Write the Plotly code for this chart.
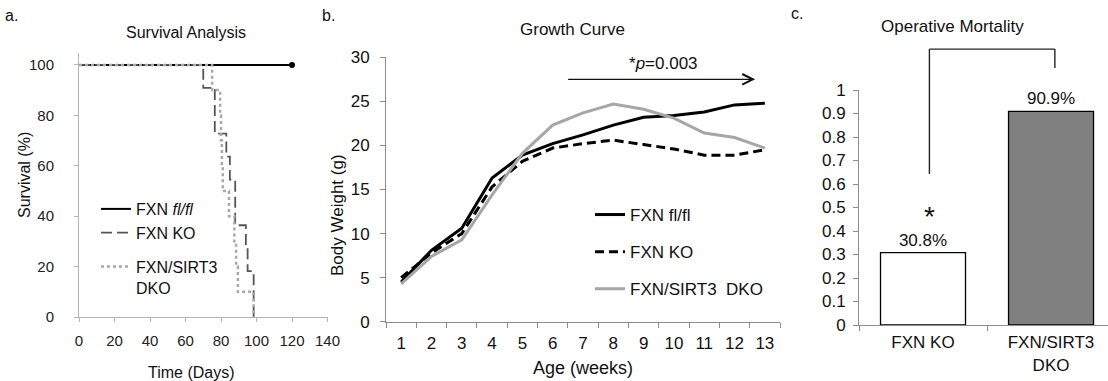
import plotly.graph_objects as go

# ---------------- data ----------------
# Panel a: Kaplan-Meier survival (days, % survival)
surv_days_flfl = [0, 120]
surv_flfl = [100, 100]
surv_days_ko = [0, 70, 76.5, 83, 85, 88, 94, 95, 98.4]
surv_ko = [100, 90.9, 72.7, 63.6, 54.5, 36.4, 27.3, 18.2, 0]
surv_days_dko = [0, 75, 79.5, 80, 80.5, 81, 84.5, 87.5, 88.5, 89.5, 98.4]
surv_dko = [100, 90, 80, 70, 60, 50, 40, 30, 20, 10, 0]

# Panel b: growth curve (body weight, g)
weeks = ["1", "2", "3", "4", "5", "6", "7", "8", "9", "10", "11", "12", "13"]
bw_flfl = [4.5, 8.1, 10.6, 16.3, 18.9, 20.2, 21.2, 22.3, 23.2, 23.4, 23.8, 24.6, 24.8]
bw_ko = [5.0, 7.8, 10.0, 15.3, 18.2, 19.7, 20.2, 20.6, 20.1, 19.6, 18.9, 18.9, 19.5]
bw_dko = [4.3, 7.4, 9.3, 14.4, 19.1, 22.3, 23.7, 24.7, 24.1, 23.1, 21.4, 20.9, 19.7]
p_text = "*<i>p</i>=0.003"
arrow_from_week = 6.46
arrow_to_week = 12.68
arrow_level = 27.5

# Panel c: operative mortality
mort_groups = ["FXN KO", "FXN/SIRT3<br>DKO"]
mort_values = [0.308, 0.909]

# ---------------- layout helpers ----------------
W, H = 1108, 381
FONT = "Liberation Sans, Arial, sans-serif"


def px(x):
    return x / W


def py(y):
    return 1 - y / H


A_DOMX = [px(79), px(327.5)]
A_DOMY = [py(317), py(53.3)]
B_DOMX = [px(386), px(780)]
B_DOMY = [py(321.7), py(57.3)]
C_DOMX = [px(859), 1.0]
C_DOMY = [py(325), py(90)]


def c_paper_y(v):
    return C_DOMY[0] + v * (C_DOMY[1] - C_DOMY[0])


fig = go.Figure()

# ---- panel a traces ----
fig.add_trace(go.Scatter(
    x=surv_days_flfl, y=surv_flfl, mode="lines", name="FXN <i>fl/fl</i>",
    line=dict(color="black", width=2, shape="hv"),
    xaxis="x", yaxis="y", legend="legend", legendgroup="a1"))
fig.add_trace(go.Scatter(
    x=surv_days_flfl[-1:], y=surv_flfl[-1:], mode="markers", showlegend=False,
    marker=dict(size=6, color="black"), legendgroup="a1",
    xaxis="x", yaxis="y"))
fig.add_trace(go.Scatter(
    x=surv_days_ko, y=surv_ko, mode="lines", name="FXN KO",
    line=dict(color="#555555", width=1.8, shape="hv", dash="11px,5px"),
    xaxis="x", yaxis="y", legend="legend", legendgroup="a1"))
fig.add_trace(go.Scatter(
    x=surv_days_dko, y=surv_dko, mode="lines", name="FXN/SIRT3<br>DKO",
    line=dict(color="#a8a8a8", width=2.5, shape="hv", dash="dot"),
    xaxis="x", yaxis="y", legend="legend", legendgroup="a2"))

# ---- panel b traces ----
fig.add_trace(go.Scatter(
    x=weeks, y=bw_flfl, mode="lines", name="FXN fl/fl",
    line=dict(color="black", width=3),
    xaxis="x2", yaxis="y2", legend="legend2", legendgroup="b1"))
fig.add_trace(go.Scatter(
    x=weeks, y=bw_ko, mode="lines", name="FXN KO",
    line=dict(color="black", width=3, dash="9px,5px"),
    xaxis="x2", yaxis="y2", legend="legend2", legendgroup="b2"))
fig.add_trace(go.Scatter(
    x=weeks, y=bw_dko, mode="lines", name="FXN/SIRT3  DKO",
    line=dict(color="#a6a6a6", width=3),
    xaxis="x2", yaxis="y2", legend="legend2", legendgroup="b3"))

# ---- panel c trace ----
fig.add_trace(go.Bar(
    x=mort_groups, y=mort_values, width=0.664,
    marker=dict(color=["white", "#808080"], line=dict(color="black", width=1.3)),
    texttemplate="%{y:.1%}", textposition="outside",
    textfont=dict(size=17, color="#111", family=FONT), cliponaxis=False,
    xaxis="x3", yaxis="y3", showlegend=False))

axis_common = dict(showgrid=False, zeroline=False, automargin=False, showline=True,
                   ticks="outside", fixedrange=True)

fig.update_layout(
    width=W, height=H,
    margin=dict(l=0, r=0, t=0, b=0),
    paper_bgcolor="white", plot_bgcolor="white",
    font=dict(family=FONT, color="#111", size=16),
    xaxis=dict(axis_common, domain=A_DOMX, range=[0, 140], dtick=20, tick0=0,
               linecolor="#b4b4b4", tickcolor="#b4b4b4", ticklen=4,
               tickfont=dict(size=15, color="#222"), ticklabelstandoff=6, anchor="y"),
    yaxis=dict(axis_common, domain=A_DOMY, range=[0, 104.6], dtick=20, tick0=0,
               linecolor="#b4b4b4", tickcolor="#b4b4b4", ticklen=4,
               tickfont=dict(size=15, color="#222"), ticklabelstandoff=17, anchor="x"),
    xaxis2=dict(axis_common, domain=B_DOMX, type="category", range=[-0.5, 12.5],
                tickson="boundaries", linecolor="#8c8c8c", tickcolor="#8c8c8c", ticklen=5,
                tickfont=dict(size=17, color="#111"), ticklabelstandoff=6, anchor="y2"),
    yaxis2=dict(axis_common, domain=B_DOMY, range=[0, 30], dtick=5, tick0=0,
                linecolor="#8c8c8c", tickcolor="#8c8c8c", ticklen=5,
                tickfont=dict(size=17, color="#111"), ticklabelstandoff=7, anchor="x2"),
    xaxis3=dict(axis_common, domain=C_DOMX, type="category", range=[-0.5, 1.445],
                tickson="boundaries", linecolor="#8c8c8c", tickcolor="#8c8c8c", ticklen=5,
                tickfont=dict(size=17, color="#111"), ticklabelstandoff=2, anchor="y3"),
    yaxis3=dict(axis_common, domain=C_DOMY, range=[0, 1], dtick=0.1, tick0=0,
                linecolor="#8c8c8c", tickcolor="#8c8c8c", ticklen=5,
                tickfont=dict(size=17, color="#111"), ticklabelstandoff=4, anchor="x3"),
    legend=dict(x=px(96), y=py(192), xanchor="left", yanchor="top",
                bgcolor="rgba(0,0,0,0)", font=dict(size=16, color="#111"),
                valign="top", tracegroupgap=10, traceorder="grouped"),
    legend2=dict(x=px(590), y=py(197), xanchor="left", yanchor="top",
                 bgcolor="rgba(0,0,0,0)", font=dict(size=17, color="#111"),
                 valign="middle", tracegroupgap=12, traceorder="grouped"),
    showlegend=True,
)

annotations = []


def txt(text, x, y, size, angle=0, **kw):
    annotations.append(dict(text=text, x=px(x), y=py(y), xref="paper", yref="paper",
                            showarrow=False, xanchor="center", yanchor="middle",
                            textangle=angle, font=dict(size=size, family=FONT, color="#111"), **kw))


# panel letters
txt("a.", 11, 15, 16)
txt("b.", 328, 15, 16)
txt("c.", 797, 14, 16)
# titles
txt("Survival Analysis", 186, 33, 16)
txt("Growth Curve", 572, 30, 17)
txt("Operative Mortality", 952, 27, 17)
# axis titles
txt("Time (Days)", 191, 372, 16)
txt("Survival (%)", 25, 175, 16, angle=-90)
txt("Age (weeks)", 583, 368, 18)
txt("Body Weight (g)", 337, 215, 17, angle=-90)

# panel b: significance arrow and label (category index is week - 1)
annotations.append(dict(
    x=arrow_to_week - 1, y=arrow_level, ax=arrow_from_week - 1, ay=arrow_level,
    xref="x2", yref="y2", axref="x2", ayref="y2", text="", showarrow=True,
    arrowhead=5, arrowsize=1.6, arrowwidth=1.3, arrowcolor="#111"))
annotations.append(dict(
    x=(arrow_from_week + arrow_to_week) / 2 - 1 + 0.08, y=29.3, xref="x2", yref="y2",
    text=p_text, showarrow=False, font=dict(size=17, family=FONT, color="#111")))

# panel c: asterisk
annotations.append(dict(
    x=0.05, y=0.46, xref="x3", yref="y3", text="*", showarrow=False,
    font=dict(size=28, family=FONT, color="#111")))

fig.update_layout(annotations=annotations)

# panel c bracket
br_left, br_right = 0.05, 1.03
br_low_left, br_top, br_low_right = 0.643, 1.174, 1.094
line_style = dict(color="#222", width=1.4)
fig.add_shape(type="line", xref="x3", yref="paper", x0=br_left, x1=br_left,
              y0=c_paper_y(br_low_left), y1=c_paper_y(br_top), line=line_style)
fig.add_shape(type="line", xref="x3", yref="paper", x0=br_left, x1=br_right,
              y0=c_paper_y(br_top), y1=c_paper_y(br_top), line=line_style)
fig.add_shape(type="line", xref="x3", yref="paper", x0=br_right, x1=br_right,
              y0=c_paper_y(br_top), y1=c_paper_y(br_low_right), line=line_style)

fig.write_html("out.html", config={"displayModeBar": False},
               post_script="document.body.style.margin='0';document.body.style.overflow='hidden';")
